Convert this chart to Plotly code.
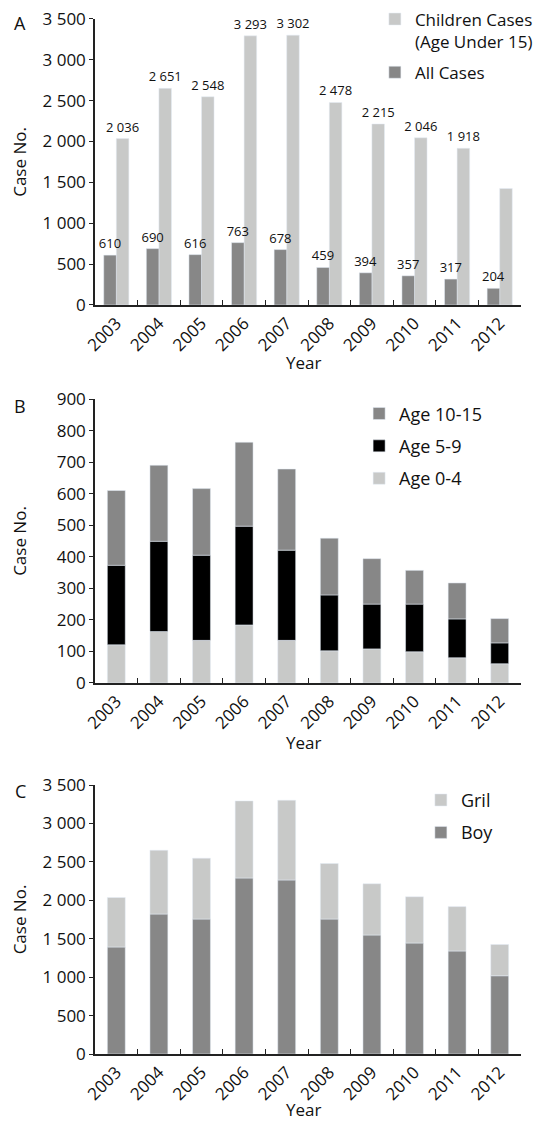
import plotly.graph_objects as go

years = ["2003", "2004", "2005", "2006", "2007", "2008", "2009", "2010", "2011", "2012"]

# Panel A
children_cases = [2036, 2651, 2548, 3293, 3302, 2478, 2215, 2046, 1918, 1425]
children_labels = ["2 036", "2 651", "2 548", "3 293", "3 302", "2 478", "2 215", "2 046", "1 918", ""]
all_cases = [610, 690, 616, 763, 678, 459, 394, 357, 317, 204]
all_labels = ["610", "690", "616", "763", "678", "459", "394", "357", "317", "204"]

# Panel B
age_0_4 = [121, 163, 135, 184, 135, 102, 108, 99, 80, 61]
age_5_9 = [252, 286, 270, 313, 286, 177, 142, 151, 123, 66]
age_10_15 = [237, 241, 211, 266, 257, 180, 144, 107, 114, 77]

# Panel C
boy = [1392, 1821, 1756, 2290, 2264, 1756, 1548, 1444, 1340, 1018]
girl = [644, 830, 792, 1003, 1038, 722, 667, 602, 578, 407]

ticks_big = [0, 500, 1000, 1500, 2000, 2500, 3000, 3500]
ticks_big_text = ["0", "500", "1 000", "1 500", "2 000", "2 500", "3 000", "3 500"]
ticks_b = [0, 100, 200, 300, 400, 500, 600, 700, 800, 900]
ticks_b_text = ["0", "100", "200", "300", "400", "500", "600", "700", "800", "900"]

LIGHT = "#c8c9c8"
DARK = "#878787"
BLACK = "#000000"
FONT = "Open Sans"
TXT = "#111111"

fig = go.Figure()

# Panel A traces (light first so the dark bar labels stay on top)
fig.add_trace(go.Bar(x=years, y=children_cases, name="Children Cases<br>(Age Under 15)",
                     marker_color=LIGHT, offset=0, width=0.295, text=children_labels,
                     textposition="outside", constraintext="none", cliponaxis=False,
                     textfont=dict(size=13, color=TXT, family=FONT),
                     xaxis="x", yaxis="y", legend="legend", legendgroup="a1", legendrank=1))
fig.add_trace(go.Bar(x=years, y=all_cases, name="All Cases", marker_color=DARK,
                     offset=-0.295, width=0.295, text=all_labels, textposition="outside",
                     constraintext="none", cliponaxis=False,
                     textfont=dict(size=13, color=TXT, family=FONT),
                     xaxis="x", yaxis="y", legend="legend", legendgroup="a2", legendrank=2))

# Panel B traces (stacked)
base_5_9 = age_0_4
base_10_15 = [a + b for a, b in zip(age_0_4, age_5_9)]
fig.add_trace(go.Bar(x=years, y=age_0_4, name="Age 0-4", marker_color=LIGHT,
                     offset=-0.21, width=0.42, xaxis="x2", yaxis="y2",
                     legend="legend2", legendgroup="b1", legendrank=3))
fig.add_trace(go.Bar(x=years, y=age_5_9, base=base_5_9, name="Age 5-9", marker_color=BLACK,
                     offset=-0.21, width=0.42, xaxis="x2", yaxis="y2",
                     legend="legend2", legendgroup="b2", legendrank=2))
fig.add_trace(go.Bar(x=years, y=age_10_15, base=base_10_15, name="Age 10-15", marker_color=DARK,
                     offset=-0.21, width=0.42, xaxis="x2", yaxis="y2",
                     legend="legend2", legendgroup="b3", legendrank=1))

# Panel C traces (stacked)
fig.add_trace(go.Bar(x=years, y=boy, name="Boy", marker_color=DARK,
                     offset=-0.21, width=0.42, xaxis="x3", yaxis="y3",
                     legend="legend3", legendgroup="c1", legendrank=2))
fig.add_trace(go.Bar(x=years, y=girl, base=boy, name="Gril", marker_color=LIGHT,
                     offset=-0.21, width=0.42, xaxis="x3", yaxis="y3",
                     legend="legend3", legendgroup="c2", legendrank=1))

def xax(anchor):
    return dict(type="category", anchor=anchor, domain=[0, 1], tickangle=-45,
                ticks="inside", tickson="boundaries", ticklen=5, tickwidth=1.2,
                tickcolor="#222", showline=True, linecolor="#222", linewidth=1.5,
                showgrid=False, automargin=False,
                tickfont=dict(size=17, family=FONT, color=TXT))

def yax(anchor, domain, rng, tv, tt, standoff):
    return dict(anchor=anchor, domain=domain, range=rng, tickvals=tv, ticktext=tt,
                ticks="outside", ticklen=4, tickwidth=1.2, tickcolor="#222",
                showline=True, linecolor="#222", linewidth=1.5, showgrid=False,
                zeroline=False, automargin=False, ticklabeloverflow="allow",
                tickfont=dict(size=17, family=FONT, color=TXT),
                title=dict(text="Case No.", font=dict(size=17, family=FONT, color=TXT),
                           standoff=standoff))

legend_common = dict(orientation="v", xanchor="left", yanchor="top",
                     bgcolor="rgba(0,0,0,0)", traceorder="grouped", valign="top")

# plot area in figure pixels: y from 7 to 1046 (height 1039)
def py(px):
    return (1046 - px) / 1039

def ann(text, x, y, size=17, angle=0):
    return dict(text=text, x=x, y=y, xref="paper", yref="paper", showarrow=False,
                xanchor="center", yanchor="middle", textangle=angle,
                font=dict(size=size, family=FONT, color=TXT))

fig.update_layout(
    width=544, height=1113,
    margin=dict(l=87, r=31, t=7, b=67, autoexpand=False),
    plot_bgcolor="white", paper_bgcolor="white",
    barmode="overlay",
    font=dict(family=FONT, size=17, color=TXT),
    xaxis=xax("y"), xaxis2=xax("y2"), xaxis3=xax("y3"),
    yaxis=yax("x", [0.7209, 0.9962], [0, 3500], ticks_big, ticks_big_text, 15),
    yaxis2=yax("x2", [0.3571, 0.6304], [0, 900], ticks_b, ticks_b_text, 31),
    yaxis3=yax("x3", [0.0, 0.2589], [0, 3500], ticks_big, ticks_big_text, 15),
    legend=dict(x=0.657, y=1.013, tracegroupgap=6,
                font=dict(size=17, family=FONT, color=TXT), **legend_common),
    legend2=dict(x=0.620, y=0.634, tracegroupgap=6,
                 font=dict(size=18, family=FONT, color=TXT), **legend_common),
    legend3=dict(x=0.765, y=0.262, tracegroupgap=6,
                 font=dict(size=18, family=FONT, color=TXT), **legend_common),
    annotations=[
        ann("A", -0.176, py(15), 18),
        ann("B", -0.176, py(398), 18),
        ann("C", -0.176, py(783), 18),
        ann("Year", 0.49, py(354)),
        ann("Year", 0.49, py(734)),
        ann("Year", 0.49, py(1101)),
    ],
)

fig.write_html("out.html")
